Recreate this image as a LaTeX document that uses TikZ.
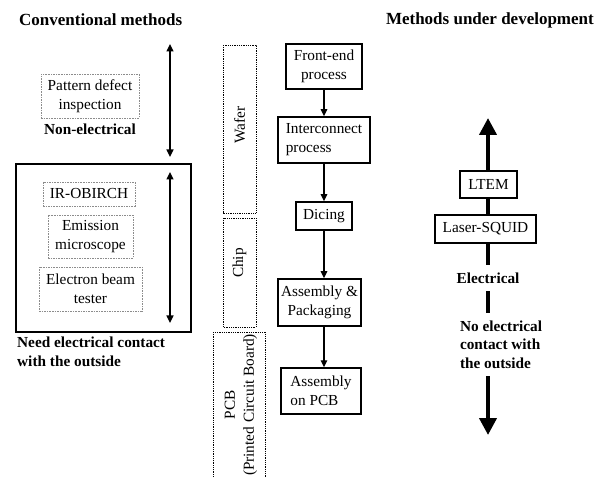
\documentclass[tikz,border=0pt]{standalone}
\usepackage{fontspec}
\setmainfont{Liberation Serif}
\usetikzlibrary{arrows.meta}
\begin{document}
\begin{tikzpicture}[x=1pt,y=-1pt,
  txt/.style={font=\fontsize{15.3}{19}\selectfont, align=center, inner sep=0pt},
  btxt/.style={font=\fontsize{15.3}{18.5}\selectfont\bfseries, inner sep=0pt},
  ttl/.style={font=\fontsize{17}{20}\selectfont\bfseries, inner sep=0pt},
  dbox/.style={txt, draw=black!45, dash pattern=on 1.6pt off 1pt, line width=0.7pt},
  dotbox/.style={txt, draw=black, dash pattern=on 0.9pt off 0.9pt, line width=0.8pt},
  fbox/.style={txt, draw=black, line width=1.5pt},
  rbox/.style={txt, draw=black, line width=1.1pt},
  arr/.style={line width=1.3pt, -{Triangle[length=7pt,width=6.5pt]}},
  darr/.style={line width=1.3pt, {Triangle[length=7.5pt,width=7pt]}-{Triangle[length=7.5pt,width=7pt]}},
  thick arr/.style={line width=4pt, -{Triangle[length=17pt,width=17pt]}},
  thick line/.style={line width=4pt}
]
\useasboundingbox (0,0) rectangle (605,478);

% titles
\node[ttl, anchor=west] (t1) at (19,20) {Conventional methods};
\node[ttl, anchor=east] (t2) at (594,20) {Methods under development};

% left column
\coordinate (a1t) at (170,44);
\coordinate (a1b) at (170,157);
\draw[darr] (a1t) -- (a1b);
\node[dbox, minimum width=98, minimum height=44] (pdi) at (90,96) {Pattern defect\\inspection};
\node[btxt] (nonel) at (90,129) {Non-electrical};

\node[draw=black, line width=1.2pt, minimum width=175, minimum height=168, inner sep=0] (big) at (103.5,248) {};
\coordinate (a2t) at (170,172);
\coordinate (a2b) at (170,323);
\draw[darr] (a2t) -- (a2b);
\node[dbox, minimum width=92, minimum height=24] (ir) at (89,194) {IR-OBIRCH};
\node[dbox, minimum width=85, minimum height=43] (em) at (90.5,236.5) {Emission\\microscope};
\node[dbox, minimum width=103, minimum height=44] (eb) at (90.5,289) {Electron beam\\tester};
\node[btxt, anchor=north west, align=left] (need) at (17,337) {Need electrical contact\\with the outside};

% middle dotted boxes
\node[dotbox, rotate=90, minimum width=168, minimum height=33] (wafer) at (239.5,129) {};
\node[txt, rotate=90] (wafert) at (239.5,125) {Wafer};
\node[dotbox, rotate=90, minimum width=109, minimum height=33] (chip) at (239.5,272.5) {};
\node[txt, rotate=90] (chipt) at (239.5,263) {Chip};
\node[dotbox, rotate=90, minimum width=160, minimum height=52] (pcb) at (239,412) {};
\node[txt, rotate=90] (pcbt) at (241,405) {PCB\\(Printed Circuit Board)};

% flow
\node[fbox, minimum width=76, minimum height=45] (fe) at (324,66.5) {Front-end\\process};
\node[fbox, minimum width=92, minimum height=46, align=left] (ic) at (324,140) {Interconnect\\process};
\node[fbox, minimum width=56, minimum height=28] (dc) at (324,216) {Dicing};
\node[fbox, minimum width=83, minimum height=47] (ap) at (319.5,302.5) {Assembly \&\\Packaging};
\node[fbox, minimum width=80, minimum height=46, align=left] (ao) at (321,391) {Assembly\\on PCB};
\draw[arr] (fe.south) -- (ic.north);
\draw[arr] (ic.south) -- (dc.north);
\draw[arr] (dc.south) -- (dc.south |- ap.north);
\draw[arr] (dc.south |- ap.south) -- (dc.south |- ao.north);

% right column
\node[rbox, minimum width=57, minimum height=27] (ltem) at (488.5,184.5) {LTEM};
\node[rbox, minimum width=101, minimum height=28] (sq) at (485.5,229) {Laser-SQUID};
\node[btxt, minimum height=26] (elec) at (488,278) {Electrical};
\node[btxt, align=left, minimum height=63] (noel) at (501,344.5) {No electrical\\contact with\\the outside};
\coordinate (rtop) at (488,118);
\coordinate (rbot) at (488,435);
\draw[thick arr] (ltem.north -| rtop) -- (rtop);
\draw[thick line] (ltem.south -| rtop) -- (sq.north -| rtop);
\draw[thick line] (sq.south -| rtop) -- (elec.north -| rtop);
\draw[thick line] (elec.south -| rtop) -- (noel.north -| rtop);
\draw[thick arr] (noel.south -| rtop) -- (rbot);
\end{tikzpicture}
\end{document}
